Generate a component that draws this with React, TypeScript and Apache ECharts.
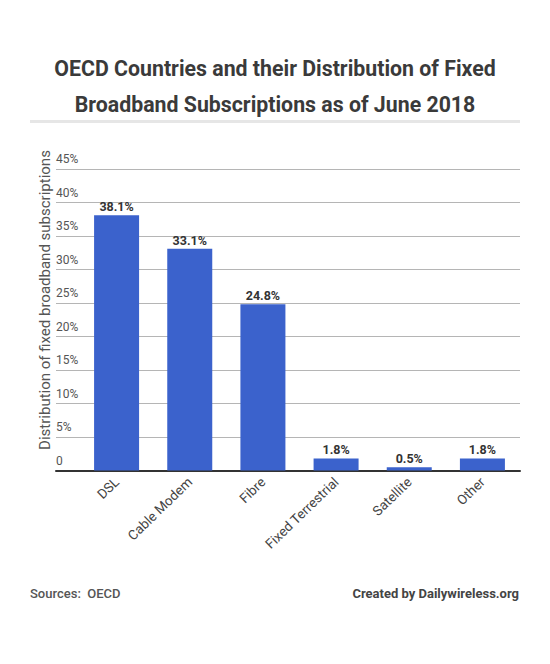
import React, { useEffect, useRef } from "react";
import * as echarts from "echarts";

const categories = ["DSL", "Cable Modem", "Fibre", "Fixed Terrestrial", "Satellite", "Other"];
const shares = [38.1, 33.1, 24.8, 1.8, 0.5, 1.8];
const titleLines = ["OECD Countries and their Distribution of Fixed", "Broadband Subscriptions as of June 2018"];
const yAxisTitle = "Distribution of fixed broadband subscriptions";
const sourceText = "Sources:  OECD";
const creditText = "Created by Dailywireless.org";

export default function App() {
  const ref = useRef<HTMLDivElement>(null);
  useEffect(() => {
    document.body.style.margin = "0";
    const chart = echarts.init(ref.current!, null, { renderer: "svg" });
    const font = "Roboto";
    const top = 169;
    const height = 301.5;
    chart.setOption({
      animation: false,
      backgroundColor: "#ffffff",
      textStyle: { fontFamily: font },
      title: {
        text: titleLines.join("\n"),
        left: "center",
        top: 45,
        textStyle: { fontFamily: font, fontSize: 21.3, fontWeight: "bold", color: "#3a3a3a", lineHeight: 36 },
      },
      grid: [
        { left: 56, width: 464, top, height },
        { left: 80, width: 439, top, height },
      ],
      xAxis: [
        {
          gridIndex: 0,
          type: "value",
          min: 0,
          max: 1,
          axisLine: { show: true, lineStyle: { color: "#333333", width: 2 } },
          axisTick: { show: false },
          axisLabel: { show: false },
          splitLine: { show: false },
        },
        {
          gridIndex: 1,
          type: "category",
          data: categories,
          axisLine: { show: false },
          axisTick: { show: false },
          axisLabel: { rotate: 44, fontSize: 13.5, color: "#444444", margin: 9, interval: 0, fontFamily: font },
        },
      ],
      yAxis: [
        {
          gridIndex: 0,
          type: "value",
          min: 0,
          max: 45,
          interval: 5,
          axisLine: { show: false },
          axisTick: { show: false },
          axisLabel: {
            inside: true,
            margin: 0,
            align: "left",
            verticalAlign: "bottom",
            padding: [0, 0, 4, 0],
            fontSize: 12,
            color: "#555555",
            fontFamily: font,
            formatter: (v: number) => (v === 0 ? "0" : v + "%"),
          },
          splitLine: { show: true, lineStyle: { color: "#b5b5b5", width: 1 } },
        },
        {
          gridIndex: 1,
          type: "value",
          min: 0,
          max: 45,
          show: false,
        },
      ],
      series: [
        {
          type: "bar",
          xAxisIndex: 1,
          yAxisIndex: 1,
          data: shares,
          barWidth: 45,
          itemStyle: { color: "#3b62cc" },
          label: {
            show: true,
            position: "top",
            distance: 2,
            fontSize: 12.5,
            fontWeight: "bold",
            color: "#333333",
            fontFamily: font,
            formatter: "{c}%",
          },
        },
      ],
      graphic: [
        { type: "rect", shape: { x: 30, y: 120, width: 490, height: 3 }, style: { fill: "#e6e6e6" } },
        {
          type: "text",
          x: 45,
          y: 300,
          rotation: Math.PI / 2,
          style: { text: yAxisTitle, fontSize: 15, fill: "#555555", fontFamily: font, align: "center", verticalAlign: "middle" },
        },
        {
          type: "text",
          x: 30,
          y: 593,
          style: { text: sourceText, fontSize: 13, fontWeight: 500, fill: "#555555", fontFamily: font, align: "left", verticalAlign: "middle" },
        },
        {
          type: "text",
          x: 519,
          y: 593,
          style: { text: creditText, fontSize: 13, fontWeight: "bold", fill: "#444444", fontFamily: font, align: "right", verticalAlign: "middle" },
        },
      ],
    });
    return () => chart.dispose();
  }, []);
  return <div ref={ref} style={{ width: 550, height: 664 }} />;
}
